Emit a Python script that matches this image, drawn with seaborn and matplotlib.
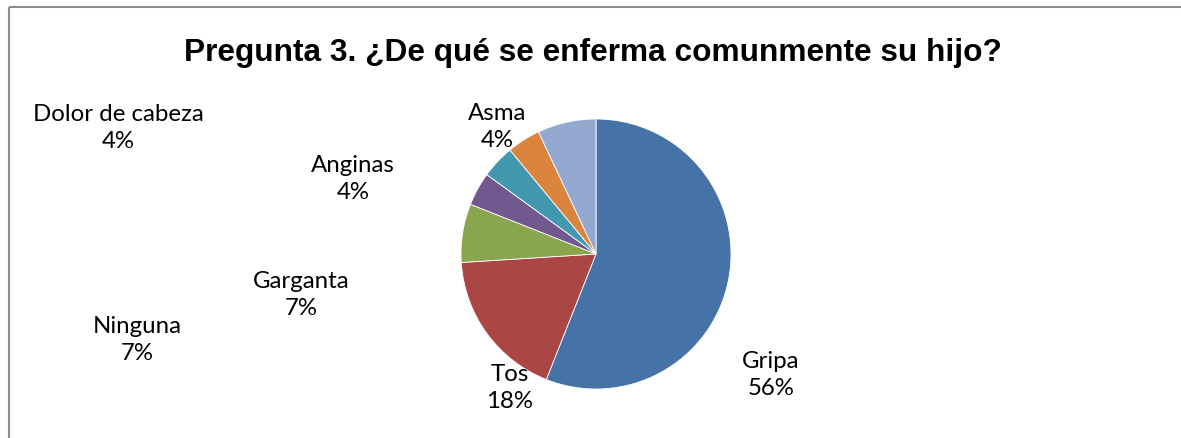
import matplotlib
matplotlib.use("Agg")
import matplotlib.pyplot as plt
import seaborn as sns
from matplotlib.lines import Line2D

categories = ["Gripa", "Tos", "Garganta", "Anginas", "Dolor de cabeza", "Asma", "Ninguna"]
values = [56, 18, 7, 4, 4, 4, 7]
pct_labels = ["56%", "18%", "7%", "4%", "4%", "4%", "7%"]
colors = ["#4572A7", "#AA4643", "#89A54E", "#71588F", "#4198AF", "#DB843D", "#93A9CF"]
title = "Pregunta 3. ¿De qué se enferma comunmente su hijo?"

# label centre positions in pixels (x, y from top)
label_pos = [(771, 375), (510, 388), (301, 295), (353, 179), (118, 128), (497, 127), (137, 340)]

sns.set_theme(style="white")
plt.rcParams["font.family"] = ["Lato", "DejaVu Sans"]
plt.rcParams["text.color"] = "black"

W, H = 1181, 439
fig = plt.figure(figsize=(W / 100, H / 100), dpi=100, edgecolor="white", linewidth=0)
fig.patch.set_facecolor("white")

cx, cy, r = 596, 255, 135
ax = fig.add_axes([(cx - r) / W, (H - cy - r) / H, 2 * r / W, 2 * r / H])
palette = sns.color_palette(colors)
ax.pie(values, colors=palette, startangle=90, counterclock=False,
       wedgeprops=dict(edgecolor="white", linewidth=0.6))
ax.set_xlim(-1, 1)
ax.set_ylim(-1, 1)
ax.set_aspect("equal")
ax.axis("off")

for cat, pct, (px, py) in zip(categories, pct_labels, label_pos):
    fig.text(px / W, 1 - py / H, f"{cat}\n{pct}", ha="center", va="center",
             fontsize=17.3, color="black", linespacing=1.3)

fig.text(593 / W, 1 - 53 / H, title, ha="center", va="center", color="black",
         fontsize=22.8, fontweight="bold", family=["Liberation Sans", "DejaVu Sans"])

bx, by = 8.5 / W, 1 - 7.5 / H
fig.add_artist(Line2D([bx, 1.0], [by, by], transform=fig.transFigure, color="#8c8c8c",
                      linewidth=1.5, solid_capstyle="butt"))
fig.add_artist(Line2D([bx, bx], [by, 0.0], transform=fig.transFigure, color="#8c8c8c",
                      linewidth=1.5, solid_capstyle="butt"))

fig.savefig("out.png", dpi=100, facecolor="white", edgecolor="white")
